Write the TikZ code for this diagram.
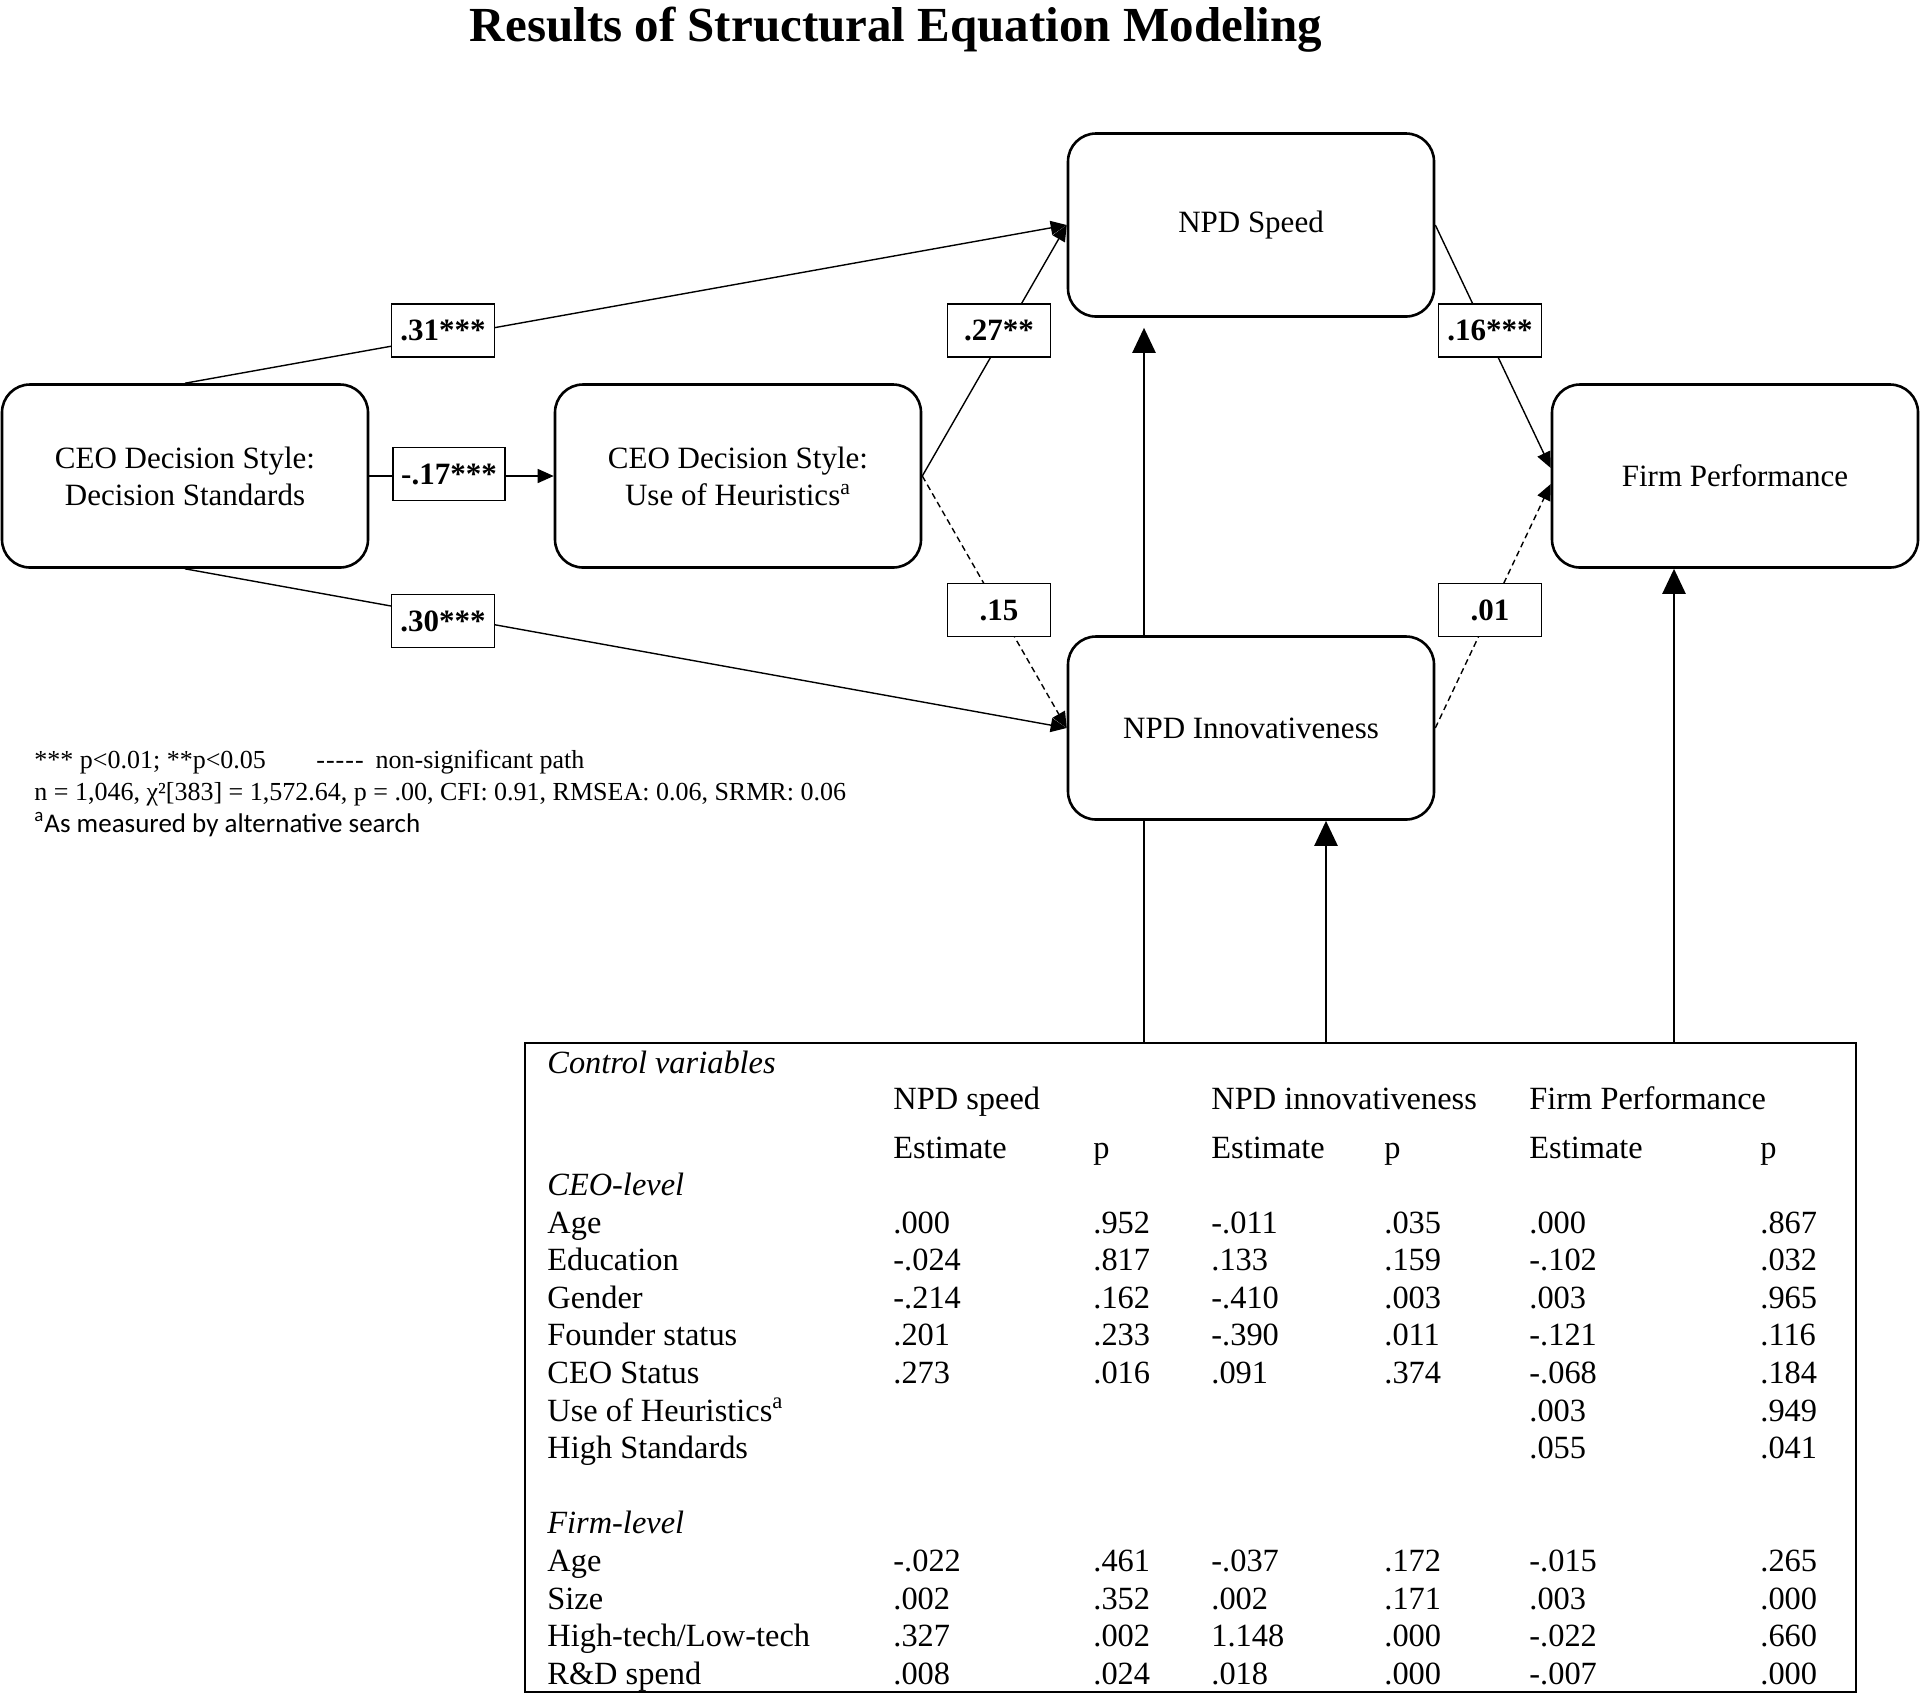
\documentclass[tikz,border=0pt]{standalone}
\usepackage{fontspec}
\setmainfont{Liberation Serif}
\newfontfamily\notesans{Carlito}
\usetikzlibrary{arrows.meta, calc}

\begin{document}
\begin{tikzpicture}[
  x=0.5pt, y=-0.5pt,
  construct/.style={draw, line width=1.3pt, rounded corners=14pt, minimum width=183pt, minimum height=91.5pt, align=center, font=\fontsize{15.5}{18.5}\selectfont},
  coef/.style={draw, fill=white, line width=0.9pt, minimum width=51.5pt, minimum height=26.5pt, inner xsep=4pt, font=\fontsize{15.5}{18}\selectfont\bfseries},
  sigpath/.style={line width=0.7pt, -{Triangle[length=8pt, width=7pt]}},
  nspath/.style={sigpath, dash pattern=on 3pt off 2pt},
  ctrlarrow/.style={line width=1.2pt, -{Triangle[length=12.5pt, width=11.5pt]}},
  cell/.style={anchor=base west, inner sep=0pt, font=\fontsize{16.2}{19}\selectfont},
  note/.style={anchor=base west, inner sep=0pt, font=\fontsize{13}{15}\selectfont},
]
\useasboundingbox (0,0) rectangle (1920,1694);

% title
\node[anchor=base, font=\fontsize{24.5}{28}\selectfont\bfseries] (title) at (896,41) {Results of Structural Equation Modeling};

% constructs
\node[construct] (std) at (185,476) {CEO Decision Style:\\Decision Standards};
\node[construct] (heur) at (738,476) {CEO Decision Style:\\Use of Heuristics\textsuperscript{a}};
\node[construct] (speed) at (1251,225) {NPD Speed};
\node[construct] (innov) at (1251,728) {NPD Innovativeness};
\node[construct] (firm) at (1735,476) {Firm Performance};

% control variables box
\node[draw, line width=1pt, anchor=north west, inner sep=0pt, minimum width=665.5pt, minimum height=324.5pt] (ctrl) at (524,1042) {};
\coordinate (cx1) at (1144,1042);
\coordinate (cx2) at (1326,1042);
\coordinate (cx3) at (1674,1042);

% paths
\draw[sigpath] (std.north) -- (speed.west);
\draw[sigpath] (std.east) -- (heur.west);
\draw[sigpath] (std.south) -- (innov.west);
\draw[sigpath] (heur.east) -- (speed.west);
\draw[nspath] (heur.east) -- (innov.west);
\draw[sigpath] (speed.east) -- ([yshift=4pt]firm.west);
\draw[nspath] (innov.east) -- ([yshift=-4pt]firm.west);
\draw[ctrlarrow, shorten >=5pt] (innov.north -| cx1) -- (speed.south -| cx1);
\draw[line width=1.2pt] (ctrl.north -| cx1) -- (innov.south -| cx1);
\draw[ctrlarrow] (ctrl.north -| cx2) -- (innov.south -| cx2);
\draw[ctrlarrow] (ctrl.north -| cx3) -- (firm.south -| cx3);

% coefficients
\node[coef] (b31) at (443,330.5) {.31***};
\node[coef] (b27) at (999,330.5) {.27**};
\node[coef] (b16) at (1490,330.5) {.16***};
\node[coef] (b17) at (449,474) {-.17***};
\node[coef] (b30) at (443,621) {.30***};
\node[coef] (b15) at (999,610) {.15};
\node[coef] (b01) at (1490,610) {.01};

% notes
\node[note] (sig) at (34,768) {*** p<0.01; **p<0.05};
\node[note] (ns) at (316,768) {{-}\kern0.5pt{-}\kern0.5pt{-}\kern0.5pt{-}\kern0.5pt{-}\hspace{6pt}non-significant path};
\node[note] (fit) at (34,800) {n = 1,046, χ²[383] = 1,572.64, p = .00, CFI: 0.91, RMSEA: 0.06, SRMR: 0.06};
\node[note, font=\notesans\fontsize{13.5}{16}\selectfont] (fn) at (34,832) {\textsuperscript{a}As measured by alternative search};

% table
\node[cell, font=\fontsize{16.2}{19}\selectfont\itshape] (cv) at (547,1073) {Control variables};
\node[cell] (h1) at (893,1109) {NPD speed};
\node[cell] (h2) at (1211,1109) {NPD innovativeness};
\node[cell] (h3) at (1529,1109) {Firm Performance};
\foreach \xx [count=\i] in {893,1211,1529}
  \node[cell] (est\i) at (\xx,1158) {Estimate};
\foreach \xx [count=\i] in {1093,1384,1760}
  \node[cell] (pv\i) at (\xx,1158) {p};
\node[cell, font=\fontsize{16.2}{19}\selectfont\itshape] (ceo) at (547,1195) {CEO-level};
\node[cell, font=\fontsize{16.2}{19}\selectfont\itshape] (frm) at (547,1533.8) {Firm-level};
\foreach \yy/\lab/\ea/\pa/\eb/\pb/\ec/\pc [count=\i] in {
    1233/Age/.000/.952/-.011/.035/.000/.867,
    1270.6/Education/-.024/.817/.133/.159/-.102/.032,
    1308.2/Gender/-.214/.162/-.410/.003/.003/.965,
    1345.8/Founder status/.201/.233/-.390/.011/-.121/.116,
    1383.4/CEO Status/.273/.016/.091/.374/-.068/.184,
    1421/{Use of Heuristics\textsuperscript{a}}/{}/{}/{}/{}/.003/.949,
    1458.6/High Standards/{}/{}/{}/{}/.055/.041,
    1571.4/Age/-.022/.461/-.037/.172/-.015/.265,
    1609/Size/.002/.352/.002/.171/.003/.000,
    1646.6/{High-tech/Low-tech}/.327/.002/1.148/.000/-.022/.660,
    1684.2/R\&D spend/.008/.024/.018/.000/-.007/.000}{
  \node[cell] (lab\i) at (547,\yy) {\lab};
  \node[cell] (ea\i) at (893,\yy) {\ea};
  \node[cell] (pa\i) at (1093,\yy) {\pa};
  \node[cell] (eb\i) at (1211,\yy) {\eb};
  \node[cell] (pb\i) at (1384,\yy) {\pb};
  \node[cell] (ec\i) at (1529,\yy) {\ec};
  \node[cell] (pc\i) at (1760,\yy) {\pc};
}

\end{tikzpicture}
\end{document}
